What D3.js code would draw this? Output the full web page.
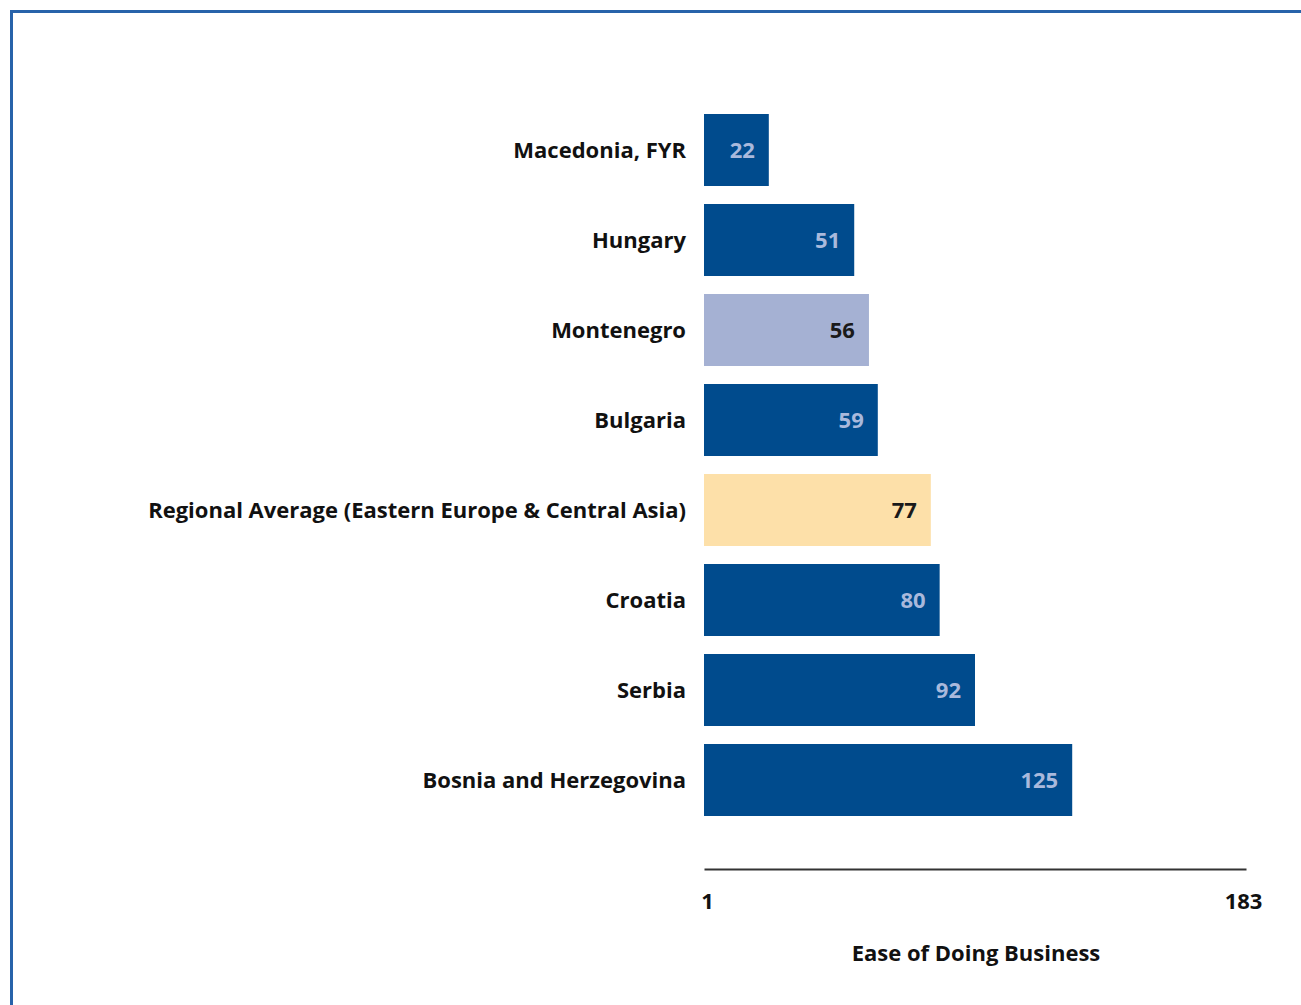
<!DOCTYPE html>
<html><head><meta charset="utf-8">
<script src="https://cdn.jsdelivr.net/npm/d3@7"></script>
<style>
html,body{margin:0;padding:0;background:#fff;}
svg{display:block;}
text{font-family:"Open Sans","Liberation Sans",sans-serif;font-weight:700;}
</style></head>
<body>
<svg id="chart" width="1301" height="1005"></svg>
<script>
const categories = ["Macedonia, FYR","Hungary","Montenegro","Bulgaria","Regional Average (Eastern Europe & Central Asia)","Croatia","Serbia","Bosnia and Herzegovina"];
const values = [22,51,56,59,77,80,92,125];
const barKinds = ["peer","peer","focus","peer","average","peer","peer","peer"];
const tickLabels = [1,183];
const axisTitle = "Ease of Doing Business";

const fillFor = {peer:"#004b8d", focus:"#a5b1d3", average:"#fde0a9"};
const textFor = {peer:"#a9b9dc", focus:"#1a1a1a", average:"#1a1a1a"};
const FONT = "Open Sans, Liberation Sans, sans-serif";
const FS = 22;

const svg = d3.select("#chart");
svg.append("rect").attr("x",11.5).attr("y",11.5).attr("width",1400).attr("height",1100)
  .attr("fill","none").attr("stroke","#2863aa").attr("stroke-width",3);

const x = d3.scaleLinear().domain([0,184]).range([704,1246]);
const y = d3.scaleBand().domain(categories).range([105,825]).paddingInner(0.2).paddingOuter(0.1);

const g = svg.append("g");
g.selectAll("rect.bar").data(categories).join("rect").attr("class","bar")
  .attr("x",x(0)).attr("y",d=>y(d))
  .attr("width",(d,i)=>x(values[i])-x(0)).attr("height",y.bandwidth())
  .attr("fill",(d,i)=>fillFor[barKinds[i]]);

g.selectAll("text.val").data(categories).join("text").attr("class","val")
  .attr("x",(d,i)=>x(values[i])-14).attr("y",d=>y(d)+y.bandwidth()/2)
  .attr("dy","0.35em").attr("text-anchor","end").attr("font-size",FS)
  .attr("fill",(d,i)=>textFor[barKinds[i]]).text((d,i)=>values[i]);

g.selectAll("text.cat").data(categories).join("text").attr("class","cat")
  .attr("x",686).attr("y",d=>y(d)+y.bandwidth()/2)
  .attr("dy","0.35em").attr("text-anchor","end").attr("font-size",FS)
  .attr("fill","#111").text(d=>d);

// axis
const axis = d3.axisBottom(x).tickValues(tickLabels).tickSize(0).tickPadding(24).tickFormat(d3.format("d"));
const ax = svg.append("g").attr("transform","translate(0,869)").call(axis);
ax.select(".domain").attr("stroke","#333").attr("stroke-width",2);
ax.selectAll(".tick text").attr("font-size",FS).attr("fill","#111")
  .attr("font-family",FONT).attr("font-weight",700);

svg.append("text").attr("x",976).attr("y",953).attr("dy","0.35em").attr("text-anchor","middle")
  .attr("font-size",FS).attr("fill","#111").text(axisTitle);
</script>
</body></html>
